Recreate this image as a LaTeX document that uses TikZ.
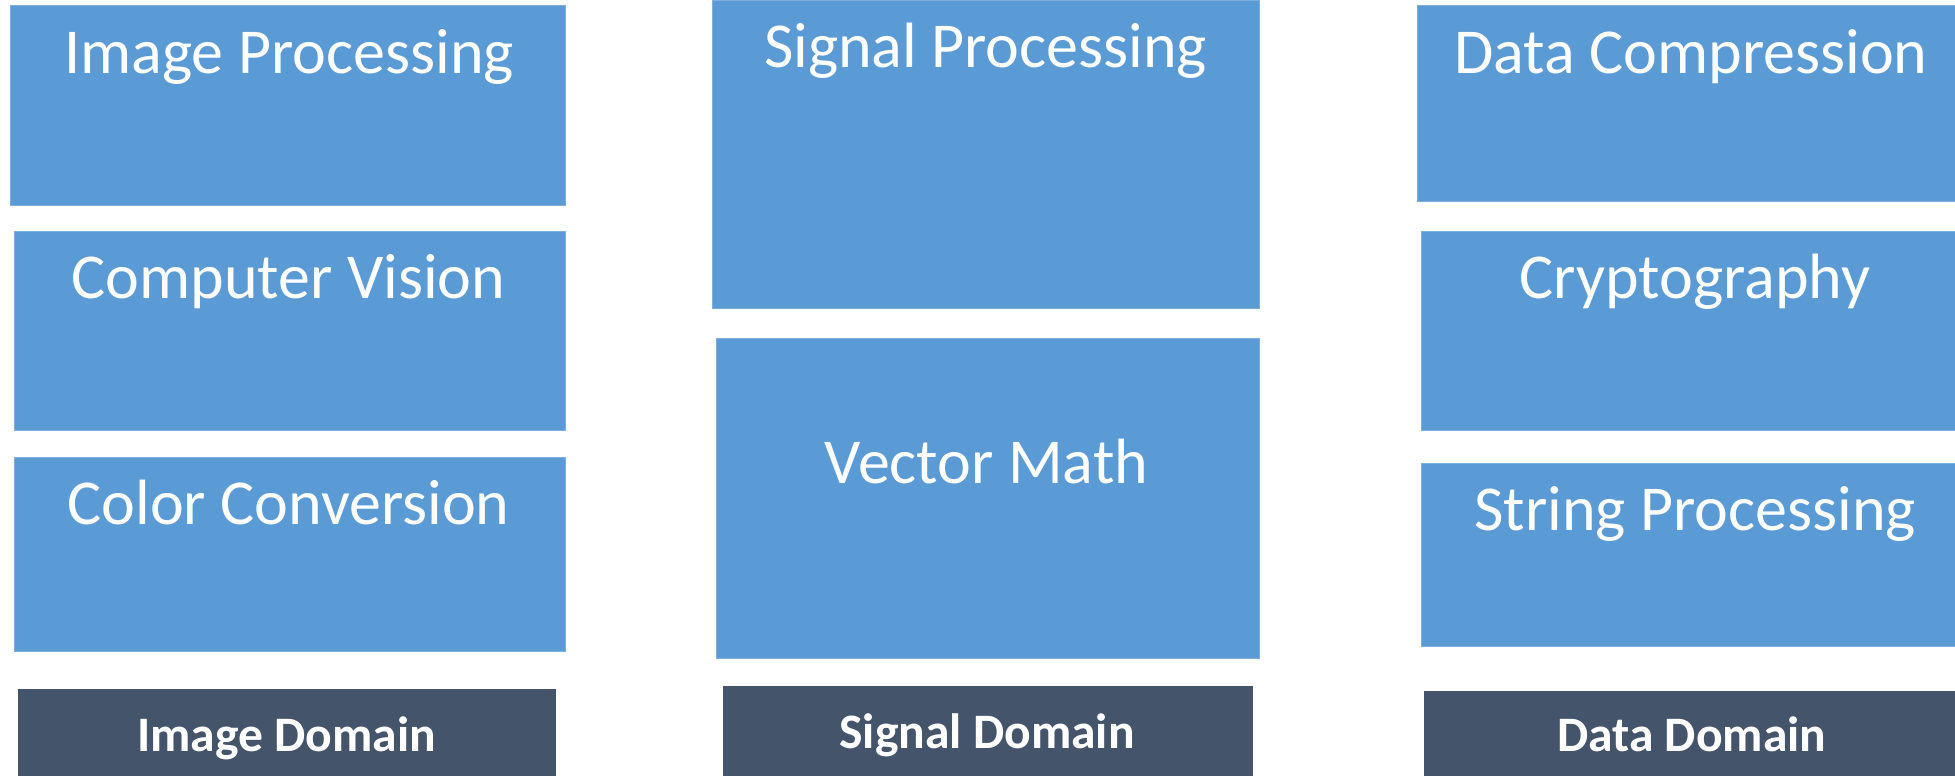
\documentclass[tikz,border=0pt]{standalone}
\usepackage{fontspec}
\setmainfont{Carlito}
\definecolor{blk}{HTML}{5B9BD5}
\definecolor{dom}{HTML}{44546A}
\tikzset{
  x=0.5pt, y=-0.5pt,
  area/.style={fill=blk, draw=blk!80!white, line width=0.4pt, inner sep=0pt, anchor=north west},
  dombox/.style={fill=dom, draw=none, inner sep=0pt, anchor=north west},
  lbl/.style={text=white, font=\fontsize{32}{36}\selectfont, anchor=base, inner sep=0pt},
  dlbl/.style={text=white, font=\bfseries\fontsize{24.8}{28}\selectfont, anchor=base, inner sep=0pt}
}
\begin{document}
\begin{tikzpicture}
\useasboundingbox (0,0) rectangle (1955,776);
% Image column
\node[area, minimum width=277.7pt, minimum height=100pt] (ip) at (9.6,5) {};
\node[area, minimum width=275.6pt, minimum height=99.5pt] (cv) at (13.8,231) {};
\node[area, minimum width=275.6pt, minimum height=97pt] (cc) at (13.8,457) {};
\node[dombox, minimum width=268.8pt, minimum height=43.5pt] (id) at (18,689) {};
\node[lbl] (ipt) at (289,73) {Image Processing};
\node[lbl] (cvt) at (288.5,298) {Computer Vision};
\node[lbl] (cct) at (288.6,524) {Color Conversion};
\node[dlbl] (idt) at (286.5,751) {Image Domain};
% Signal column
\node[area, minimum width=273.5pt, minimum height=154pt] (sp) at (712.4,0) {};
\node[area, minimum width=271.5pt, minimum height=160pt] (vm) at (716.4,338) {};
\node[dombox, minimum width=265pt, minimum height=45pt] (sd) at (723,686) {};
\node[lbl] (spt) at (985.6,67) {Signal Processing};
\node[lbl] (vmt) at (986.5,483) {Vector Math};
\node[dlbl] (sdt) at (987,748) {Signal Domain};
% Data column
\node[area, minimum width=271.5pt, minimum height=98pt] (dc) at (1417,5) {};
\node[area, minimum width=269.3pt, minimum height=99.5pt] (cr) at (1421.4,231) {};
\node[area, minimum width=269.3pt, minimum height=91.5pt] (st) at (1421.4,463) {};
\node[dombox, minimum width=268pt, minimum height=42.5pt] (dd) at (1424,691) {};
\node[lbl] (dct) at (1691,73) {Data Compression};
\node[lbl] (crt) at (1695,298) {Cryptography};
\node[lbl] (stt) at (1695,530) {String Processing};
\node[dlbl] (ddt) at (1691.7,751) {Data Domain};
\end{tikzpicture}
\end{document}
